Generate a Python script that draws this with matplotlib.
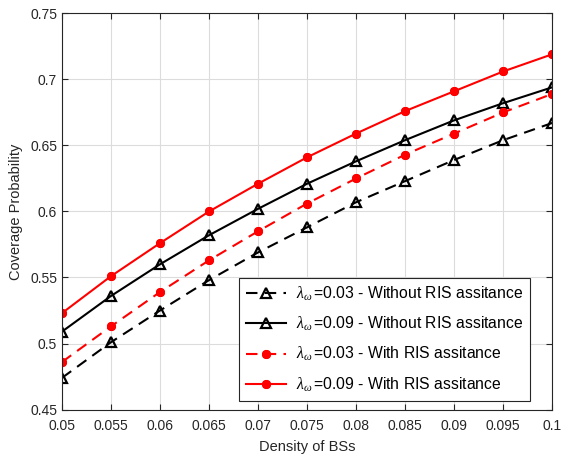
import numpy as np
import matplotlib
matplotlib.use("Agg")
import matplotlib.pyplot as plt

plt.rcParams['font.family'] = ['Liberation Sans', 'DejaVu Sans']
plt.rcParams['mathtext.fontset'] = 'custom'
plt.rcParams['mathtext.rm'] = 'Liberation Serif'
plt.rcParams['mathtext.it'] = 'Liberation Serif:italic'

# BS density values
density = [0.05, 0.055, 0.06, 0.065, 0.07, 0.075, 0.08, 0.085, 0.09, 0.095, 0.1]

# coverage probability
no_ris_003 = [0.474, 0.501, 0.525, 0.548, 0.569, 0.588, 0.607, 0.623, 0.639, 0.654, 0.667]
no_ris_009 = [0.509, 0.536, 0.560, 0.582, 0.602, 0.621, 0.638, 0.654, 0.669, 0.682, 0.694]
ris_003 = [0.486, 0.513, 0.539, 0.563, 0.585, 0.606, 0.625, 0.643, 0.659, 0.675, 0.689]
ris_009 = [0.523, 0.551, 0.576, 0.600, 0.621, 0.641, 0.659, 0.676, 0.691, 0.706, 0.719]

labels = [r'$\lambda_{\omega}\,$=0.03 - Without RIS assitance',
          r'$\lambda_{\omega}\,$=0.09 - Without RIS assitance',
          r'$\lambda_{\omega}\,$=0.03 - With RIS assitance',
          r'$\lambda_{\omega}\,$=0.09 - With RIS assitance']

fig = plt.figure(figsize=(5.63, 4.54), dpi=100)
ax = fig.add_axes([0.110, 0.0978, 0.871, 0.8729])

dash = [5.5, 3.5]
ast = (8, 2, 0)  # asterisk-like marker
ax.plot(density, no_ris_003, '--^', color='black', lw=1.5, ms=7.5, mfc='none', mew=1.6, dashes=dash, label=labels[0])
ax.plot(density, no_ris_009, '-^', color='black', lw=1.5, ms=7.5, mfc='none', mew=1.6, label=labels[1])
ax.plot(density, ris_003, '--', marker=ast, color='red', lw=1.5, ms=6.5, mew=2, dashes=dash, label=labels[2])
ax.plot(density, ris_009, '-', marker=ast, color='red', lw=1.5, ms=6.5, mew=2, label=labels[3])

ax.set_xlim(0.05, 0.1)
ax.set_ylim(0.45, 0.75)
ax.set_xticks(density)
ax.set_xticklabels(['0.05', '0.055', '0.06', '0.065', '0.07', '0.075', '0.08', '0.085', '0.09', '0.095', '0.1'])
ax.set_yticks([0.45, 0.5, 0.55, 0.6, 0.65, 0.7, 0.75])
ax.set_yticklabels(['0.45', '0.5', '0.55', '0.6', '0.65', '0.7', '0.75'])
ax.tick_params(direction='in', top=True, right=True, labelsize=10, colors='#262626', length=4)
ax.tick_params(axis='x', pad=7)
ax.grid(True, color='#dcdcdc', lw=0.8)
ax.set_axisbelow(True)
for s in ax.spines.values():
    s.set_color('#262626')

ax.set_xlabel('Density of BSs', fontsize=10.5, color='#262626', labelpad=5)
ax.set_ylabel('Coverage Probability', fontsize=10.5, color='#262626', labelpad=5)

leg = ax.legend(loc='lower right', bbox_to_anchor=(0.955, 0.0226), borderaxespad=0,
                fontsize=11.3, fancybox=False, framealpha=1, edgecolor='#262626',
                handlelength=2.6, handletextpad=0.6, labelspacing=0.75, borderpad=0.45)
leg.get_frame().set_linewidth(0.8)

fig.savefig('out.png', dpi=100)
